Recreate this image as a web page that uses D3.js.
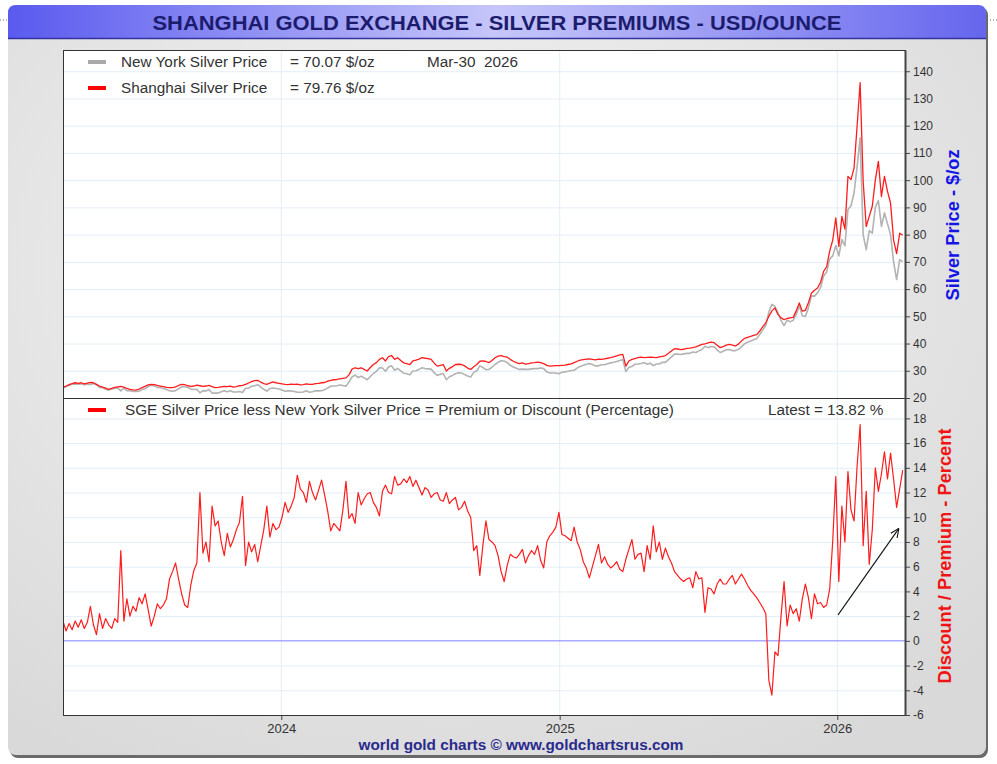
<!DOCTYPE html>
<html>
<head>
<meta charset="utf-8">
<script src="https://cdn.jsdelivr.net/npm/d3@7"></script>
<style>
  html, body { margin: 0; padding: 0; background: #fff; }
  svg { display: block; font-family: "Liberation Sans", Arial, sans-serif; }
</style>
</head>
<body>
<svg id="chart" width="997" height="764"></svg>
<script>
// one reading every 4 days from the start date
const startDate = "2023-03-20";
const stepDays = 4;
const quoteDate = "Mar-30  2026";

const nyPrice = [
  23.6, 24.2, 24.6, 25.1, 25.2, 25.1, 25.2, 24.9, 25.1, 25.0,
  25.3, 24.9, 23.9, 23.8, 23.2, 22.9, 23.3, 23.5, 23.7, 22.6,
  23.6, 22.7, 22.7, 22.4, 22.4, 22.5, 23.1, 23.4, 24.2, 24.7,
  24.4, 23.9, 23.8, 23.5, 23.1, 22.7, 22.5, 22.7, 23.4, 24.1,
  24.2, 23.9, 23.3, 23.1, 23.2, 21.9, 22.7, 22.6, 23.1, 21.8,
  21.8, 21.8, 22.3, 22.7, 22.3, 22.7, 22.2, 22.2, 22.4, 22.0,
  23.6, 23.6, 24.3, 24.5, 24.9, 24.0, 23.2, 22.5, 23.5, 23.7,
  23.5, 23.3, 22.9, 22.5, 22.6, 22.6, 22.4, 22.1, 22.1, 22.2,
  22.7, 22.1, 22.3, 22.7, 22.6, 22.7, 23.0, 23.7, 24.3, 24.4,
  24.5, 24.8, 24.6, 24.3, 25.9, 27.7, 28.4, 27.5, 28.0, 27.4,
  26.7, 27.9, 29.0, 29.8, 31.1, 31.0, 29.8, 31.4, 31.8, 30.2,
  30.9, 30.0, 29.1, 28.9, 28.5, 29.9, 30.0, 30.5, 31.1, 30.8,
  30.7, 30.6, 29.3, 28.3, 28.7, 29.0, 26.7, 27.8, 28.3, 28.9,
  29.3, 29.2, 28.6, 28.1, 27.7, 29.4, 30.0, 31.8, 31.2, 30.4,
  30.5, 31.3, 32.3, 33.1, 33.7, 33.6, 33.0, 32.0, 31.4, 30.9,
  30.5, 30.6, 30.5, 30.5, 30.7, 30.8, 30.8, 31.0, 30.8, 29.6,
  29.2, 29.2, 29.2, 28.9, 29.5, 29.6, 29.8, 30.1, 30.2, 31.0,
  31.6, 32.0, 32.4, 32.7, 32.3, 31.8, 31.8, 32.2, 32.2, 32.6,
  32.9, 33.1, 33.4, 33.8, 34.1, 29.7, 31.3, 31.6, 32.4, 32.5,
  32.7, 33.0, 32.4, 32.8, 31.9, 32.5, 32.5, 33.1, 33.1, 34.1,
  35.1, 36.1, 36.1, 36.0, 36.2, 36.4, 36.4, 36.9, 36.7, 37.3,
  37.8, 39.0, 38.5, 38.9, 38.8, 37.7, 36.7, 37.2, 37.7, 37.8,
  37.4, 37.4, 37.9, 38.8, 39.9, 40.5, 40.9, 41.4, 41.8, 43.3,
  45.0, 46.6, 51.6, 54.4, 53.6, 51.3, 48.4, 46.6, 48.6, 48.0,
  48.5, 50.7, 54.0, 50.2, 49.9, 53.1, 57.5, 57.4, 58.6, 60.6,
  64.8, 66.3, 71.0, 72.2, 76.0, 72.2, 78.2, 75.9, 89.2, 90.6,
  95.2, 104.9, 115.6, 80.0, 74.5, 81.5, 80.5, 90.0, 92.5, 83.0,
  88.0, 84.0, 80.0, 70.0, 63.5, 70.8, 70.07
];

const sgePrice = [
  24.0, 24.4, 24.9, 25.3, 25.6, 25.4, 25.6, 25.2, 25.5, 25.7,
  25.6, 25.0, 24.4, 24.0, 23.6, 23.2, 23.5, 23.9, 24.1, 24.3,
  24.0, 23.5, 23.2, 23.0, 22.9, 23.3, 23.8, 24.3, 24.8, 25.0,
  24.9, 24.6, 24.4, 24.2, 23.9, 23.8, 23.8, 24.1, 24.6, 25.0,
  24.9, 24.5, 24.3, 24.4, 24.7, 24.5, 24.3, 24.4, 24.6, 24.2,
  23.8, 23.9, 24.1, 24.3, 24.2, 24.4, 24.0, 24.2, 24.5, 24.6,
  25.0, 25.5, 26.0, 26.4, 26.5, 25.8, 25.3, 25.0, 25.5, 25.9,
  25.6, 25.4, 25.2, 25.0, 24.9, 25.1, 25.0, 25.1, 24.8, 24.9,
  25.2, 25.0, 25.0, 25.3, 25.4, 25.6, 25.7, 26.2, 26.5, 26.7,
  26.8, 27.0, 27.2, 27.4, 28.5, 30.6, 31.1, 30.8, 31.1, 30.5,
  29.9, 31.2, 32.3, 33.0, 34.2, 34.8, 33.6, 35.2, 35.6, 34.2,
  34.8, 33.8, 32.9, 32.6, 32.3, 33.6, 33.9, 34.3, 34.8, 34.6,
  34.5, 34.2, 32.8, 31.7, 32.0, 32.3, 29.9, 30.9, 31.5, 32.3,
  32.4, 32.3, 31.8, 31.0, 30.5, 31.5, 32.3, 33.5, 33.6, 33.4,
  33.0, 33.8, 34.8, 35.4, 35.6, 35.2, 35.0, 34.2, 33.5, 33.0,
  32.6, 32.9, 32.4, 32.6, 32.9, 33.0, 33.2, 33.0, 32.6, 32.0,
  31.7, 31.8, 31.9, 31.9, 32.0, 32.1, 32.3, 32.5, 33.0, 33.5,
  33.9, 34.1, 34.3, 34.4, 34.2, 34.0, 34.3, 34.2, 34.4, 34.6,
  34.8, 35.1, 35.5, 35.8, 36.0, 31.7, 33.6, 34.2, 34.5, 34.8,
  35.0, 34.8, 34.9, 35.0, 34.9, 34.8, 35.1, 35.3, 35.6, 36.4,
  37.3, 38.1, 38.0, 37.8, 37.9, 38.2, 38.3, 38.5, 38.8, 39.2,
  39.7, 39.9, 40.2, 40.5, 40.3, 39.4, 38.5, 38.9, 39.4, 39.7,
  39.4, 39.1, 39.8, 40.9, 41.9, 42.3, 42.6, 43.0, 43.3, 44.6,
  46.2, 47.6, 50.0, 52.0, 53.1, 50.7, 49.4, 48.8, 49.2, 49.4,
  49.6, 52.0, 54.9, 51.9, 52.2, 55.0, 58.5, 59.6, 60.4, 62.5,
  66.5, 68.2, 74.0, 78.0, 86.1, 75.7, 86.7, 82.0, 101.4, 100.2,
  104.4, 119.7, 135.8, 99.5, 83.0, 86.7, 90.4, 100.1, 106.9, 94.0,
  101.4, 95.9, 91.6, 78.0, 73.0, 80.5, 79.76
];

const premium = [
  1.6, 0.8, 1.4, 0.9, 1.6, 1.1, 1.7, 1.0, 1.5, 2.8,
  1.3, 0.5, 2.2, 1.0, 1.8, 1.3, 1.0, 1.8, 1.5, 7.3,
  1.6, 3.4, 2.0, 2.8, 2.4, 3.5, 3.0, 3.8, 2.5, 1.2,
  2.0, 3.0, 2.6, 2.9, 3.4, 5.0, 5.6, 6.3, 5.0, 3.8,
  2.9, 2.7, 4.5, 5.7, 6.3, 12.0, 7.1, 8.0, 6.4, 10.9,
  9.3, 9.7, 8.0, 6.9, 8.7, 7.6, 8.2, 9.0, 9.6, 11.7,
  6.1, 8.0, 7.2, 7.8, 6.4, 7.7, 9.0, 10.9, 8.4, 9.5,
  9.0, 9.2, 10.0, 11.2, 10.4, 10.9, 11.6, 13.4, 12.3, 12.0,
  11.2, 12.9, 12.0, 11.4, 12.2, 13.0, 11.8, 10.5, 8.9, 9.5,
  9.2, 8.9, 10.6, 12.9, 9.9, 10.3, 9.5, 12.0, 11.0, 11.5,
  11.9, 12.0, 11.2, 10.8, 10.1, 12.1, 12.6, 12.0, 11.9, 13.3,
  12.6, 12.7, 13.1, 12.8, 13.3, 12.5, 13.0, 12.4, 11.8, 12.4,
  12.2, 11.6, 11.9, 12.0, 11.4, 11.3, 12.0, 11.1, 11.4, 11.6,
  10.6, 10.8, 11.3, 10.5, 10.0, 7.3, 7.7, 5.3, 7.7, 9.7,
  8.2, 8.0, 7.7, 6.9, 5.6, 4.8, 6.1, 7.0, 6.8, 6.7,
  7.0, 7.4, 6.3, 6.9, 7.3, 7.0, 7.7, 6.5, 5.9, 8.0,
  8.5, 8.8, 9.2, 10.4, 8.6, 8.5, 8.3, 8.1, 9.2, 8.0,
  7.4, 6.4, 5.9, 5.1, 6.0, 6.9, 7.8, 6.3, 6.8, 6.2,
  5.9, 6.1, 6.4, 5.8, 5.6, 6.6, 7.4, 8.2, 6.6, 7.0,
  7.1, 5.6, 7.7, 6.6, 9.3, 7.2, 8.0, 6.6, 7.5, 6.8,
  6.3, 5.6, 5.3, 5.0, 4.8, 5.0, 5.1, 4.3, 5.6, 5.0,
  5.1, 2.3, 4.3, 4.2, 3.8, 4.6, 5.0, 4.6, 4.6, 5.0,
  5.3, 4.6, 5.0, 5.4, 5.0, 4.5, 4.1, 3.8, 3.5, 3.1,
  2.7, 2.2, -3.2, -4.4, -0.9, -1.2, 2.0, 4.8, 1.2, 2.9,
  2.2, 2.6, 1.6, 3.4, 4.6, 3.5, 1.8, 3.8, 3.0, 3.1,
  2.7, 2.9, 4.2, 8.1, 13.3, 4.8, 10.9, 8.0, 13.7, 10.6,
  9.7, 14.1, 17.5, 7.7, 12.1, 6.2, 9.0, 14.0, 12.1, 13.5,
  15.3, 13.1, 15.2, 13.1, 10.8, 12.3, 13.82
];

const priceTicks = [20, 30, 40, 50, 60, 70, 80, 90, 100, 110, 120, 130, 140];
const premiumTicks = [-6, -4, -2, 0, 2, 4, 6, 8, 10, 12, 14, 16, 18];
const yearTicks = ["2024-01-01", "2025-01-01", "2026-01-01"];
const arrowPoints = [["2026-01-02", 2.1], ["2026-03-23", 9.1]];

const parseDate = d3.utcParse("%Y-%m-%d");
const dates = premium.map((d, i) => d3.utcDay.offset(parseDate(startDate), i * stepDays));
const fmt = d3.format(".2f");

const svg = d3.select("#chart");
const box = { left: 63, right: 905, top: 50, split: 398, bottom: 715 };

const x = d3.scaleUtc()
  .domain([parseDate("2023-03-20"), parseDate("2026-03-31")])
  .range([box.left, box.right]);
const yTop = d3.scaleLinear().domain([20, 147.8]).range([box.split, box.top]);
const yBot = d3.scaleLinear().domain([-6, 19.65]).range([box.bottom, box.split]);

const defs = svg.append("defs");

const panelGrad = defs.append("radialGradient").attr("id", "panelGrad")
  .attr("cx", "45%").attr("cy", "35%").attr("r", "75%");
panelGrad.append("stop").attr("offset", "0%").attr("stop-color", "#f5f5f5");
panelGrad.append("stop").attr("offset", "100%").attr("stop-color", "#d9d9d9");

const titleGrad = defs.append("linearGradient").attr("id", "titleGrad");
titleGrad.append("stop").attr("offset", "0%").attr("stop-color", "#5a5aef");
titleGrad.append("stop").attr("offset", "50%").attr("stop-color", "#c6c6fa");
titleGrad.append("stop").attr("offset", "100%").attr("stop-color", "#6666ee");

defs.append("clipPath").attr("id", "clipTop").append("rect")
  .attr("x", box.left).attr("y", box.top)
  .attr("width", box.right - box.left).attr("height", box.split - box.top);
defs.append("clipPath").attr("id", "clipBot").append("rect")
  .attr("x", box.left).attr("y", box.split)
  .attr("width", box.right - box.left).attr("height", box.bottom - box.split);

defs.append("marker").attr("id", "arrowHead")
  .attr("viewBox", "0 0 10 10").attr("refX", 10).attr("refY", 5)
  .attr("markerWidth", 9).attr("markerHeight", 9)
  .attr("markerUnits", "userSpaceOnUse").attr("orient", "auto")
  .append("path").attr("d", "M0,0.5 L10,5 L0,9.5")
  .attr("fill", "none").attr("stroke", "#111").attr("stroke-width", 1.2);

// dotted rule behind the frame
svg.append("line").attr("x1", 0).attr("x2", 997).attr("y1", 20).attr("y2", 20)
  .attr("stroke", "#666").attr("stroke-dasharray", "1,2");

// frame with shadow
svg.append("rect").attr("x", 10).attr("y", 7).attr("width", 978).attr("height", 751)
  .attr("rx", 8).attr("fill", "#6a6a6a");
svg.append("rect").attr("x", 8).attr("y", 5).attr("width", 978).attr("height", 750)
  .attr("rx", 8).attr("fill", "url(#panelGrad)");

// title bar
svg.append("path")
  .attr("d", "M8,38 L8,13 Q8,5 16,5 L978,5 Q986,5 986,13 L986,38 Z")
  .attr("fill", "url(#titleGrad)");
svg.append("line").attr("x1", 8).attr("x2", 986).attr("y1", 38.5).attr("y2", 38.5)
  .attr("stroke", "#3333a0").attr("stroke-width", 1.5);
svg.append("text")
  .attr("x", 497).attr("y", 30)
  .attr("text-anchor", "middle")
  .attr("font-size", 20).attr("font-weight", "bold")
  .attr("fill", "#1c1c6e")
  .attr("textLength", 689).attr("lengthAdjust", "spacingAndGlyphs")
  .text("SHANGHAI GOLD EXCHANGE - SILVER PREMIUMS - USD/OUNCE");

// plot background
svg.append("rect")
  .attr("x", box.left).attr("y", box.top)
  .attr("width", box.right - box.left).attr("height", box.bottom - box.top)
  .attr("fill", "#fff");

// grid
const grid = svg.append("g").attr("stroke", "#e2eef9").attr("stroke-width", 1);
grid.selectAll(".gt").data(priceTicks.filter(d => d > 20)).join("line")
  .attr("x1", box.left).attr("x2", box.right)
  .attr("y1", d => yTop(d) + 0.5).attr("y2", d => yTop(d) + 0.5);
grid.selectAll(".gb").data(premiumTicks.filter(d => d > -6 && d !== 0)).join("line")
  .attr("x1", box.left).attr("x2", box.right)
  .attr("y1", d => yBot(d) + 0.5).attr("y2", d => yBot(d) + 0.5);
grid.selectAll(".gx").data(yearTicks).join("line")
  .attr("x1", d => x(parseDate(d))).attr("x2", d => x(parseDate(d)))
  .attr("y1", box.top).attr("y2", box.bottom);

svg.append("line")
  .attr("x1", box.left).attr("x2", box.right)
  .attr("y1", yBot(0)).attr("y2", yBot(0))
  .attr("stroke", "#8080ff").attr("stroke-width", 1);

// price lines
const priceLine = values => d3.line()
  .x((d, i) => x(dates[i]))
  .y(d => yTop(d))(values);

const topPanel = svg.append("g").attr("clip-path", "url(#clipTop)");
topPanel.append("path").attr("d", priceLine(nyPrice))
  .attr("fill", "none").attr("stroke", "#b3b3b3").attr("stroke-width", 1.6)
  .attr("stroke-linejoin", "round");
topPanel.append("path").attr("d", priceLine(sgePrice))
  .attr("fill", "none").attr("stroke", "#ff1c1c").attr("stroke-width", 1.3)
  .attr("stroke-linejoin", "round");

// premium line
const premLine = d3.line()
  .x((d, i) => x(dates[i]))
  .y(d => yBot(d));
svg.append("g").attr("clip-path", "url(#clipBot)")
  .append("path").attr("d", premLine(premium))
  .attr("fill", "none").attr("stroke", "#ff1c1c").attr("stroke-width", 1.2)
  .attr("stroke-linejoin", "round");

// arrow annotation
svg.append("line")
  .attr("x1", x(parseDate(arrowPoints[0][0]))).attr("y1", yBot(arrowPoints[0][1]))
  .attr("x2", x(parseDate(arrowPoints[1][0]))).attr("y2", yBot(arrowPoints[1][1]))
  .attr("stroke", "#111").attr("stroke-width", 1.1)
  .attr("marker-end", "url(#arrowHead)");

// frame lines
svg.append("rect")
  .attr("x", box.left + 0.5).attr("y", box.top + 0.5)
  .attr("width", box.right - box.left).attr("height", box.bottom - box.top)
  .attr("fill", "none").attr("stroke", "#333");
svg.append("line")
  .attr("x1", box.left).attr("x2", box.right)
  .attr("y1", box.split + 0.5).attr("y2", box.split + 0.5)
  .attr("stroke", "#333");

// axes
const styleAxis = g => {
  g.attr("font-family", null).attr("font-size", 12);
  g.select(".domain").attr("stroke", "#444").attr("stroke-width", 2);
  g.selectAll(".tick line").attr("stroke", "#444");
  g.selectAll(".tick text").attr("fill", "#333");
};
const plainNum = d => String(d);

svg.append("g")
  .attr("transform", `translate(${box.right},0)`)
  .call(d3.axisRight(yTop).tickValues(priceTicks).tickFormat(plainNum)
    .tickSize(5).tickSizeOuter(0).tickPadding(3))
  .call(styleAxis);

svg.append("g")
  .attr("transform", `translate(${box.right},0)`)
  .call(d3.axisRight(yBot).tickValues(premiumTicks).tickFormat(plainNum)
    .tickSize(5).tickSizeOuter(0).tickPadding(3))
  .call(styleAxis);

svg.append("g")
  .attr("transform", `translate(0,${box.bottom})`)
  .call(d3.axisBottom(x).tickValues(yearTicks.map(parseDate))
    .tickFormat(d3.utcFormat("%Y")).tickSize(5).tickSizeOuter(0).tickPadding(4))
  .call(g => {
    g.attr("font-family", null).attr("font-size", 13);
    g.select(".domain").remove();
    g.selectAll(".tick line").attr("stroke", "#444");
    g.selectAll(".tick text").attr("fill", "#333");
  });

// axis titles
svg.append("text")
  .attr("transform", "translate(959,225) rotate(-90)")
  .attr("text-anchor", "middle")
  .attr("font-size", 18).attr("font-weight", "bold")
  .attr("fill", "#1414e6")
  .attr("textLength", 151).attr("lengthAdjust", "spacingAndGlyphs")
  .text("Silver Price - $/oz");

svg.append("text")
  .attr("transform", "translate(951,556) rotate(-90)")
  .attr("text-anchor", "middle")
  .attr("font-size", 18).attr("font-weight", "bold")
  .attr("fill", "#f01414")
  .attr("textLength", 255).attr("lengthAdjust", "spacingAndGlyphs")
  .text("Discount / Premium - Percent");

// legends
const legend = svg.append("g").attr("font-size", 15.3).attr("fill", "#333");

legend.append("line").attr("x1", 88).attr("x2", 106).attr("y1", 62).attr("y2", 62)
  .attr("stroke", "#aaa").attr("stroke-width", 4);
legend.append("text").attr("x", 121).attr("y", 67).text("New York Silver Price");
legend.append("text").attr("x", 290).attr("y", 67)
  .text(`= ${fmt(nyPrice[nyPrice.length - 1])} $/oz`);
legend.append("text").attr("x", 427).attr("y", 67)
  .style("white-space", "pre").text(quoteDate);

legend.append("line").attr("x1", 88).attr("x2", 106).attr("y1", 88).attr("y2", 88)
  .attr("stroke", "#f00").attr("stroke-width", 4);
legend.append("text").attr("x", 121).attr("y", 93).text("Shanghai Silver Price");
legend.append("text").attr("x", 290).attr("y", 93)
  .text(`= ${fmt(sgePrice[sgePrice.length - 1])} $/oz`);

legend.append("line").attr("x1", 88).attr("x2", 106).attr("y1", 410).attr("y2", 410)
  .attr("stroke", "#f00").attr("stroke-width", 4);
legend.append("text").attr("x", 125).attr("y", 415)
  .text("SGE Silver Price less New York Silver Price = Premium or Discount (Percentage)");
legend.append("text").attr("x", 768).attr("y", 415)
  .text(`Latest = ${fmt(premium[premium.length - 1])} %`);

// footer
svg.append("text")
  .attr("x", 521).attr("y", 750)
  .attr("text-anchor", "middle")
  .attr("font-size", 14.5).attr("font-weight", "bold")
  .attr("fill", "#2a2a8c")
  .attr("textLength", 325).attr("lengthAdjust", "spacingAndGlyphs")
  .text("world gold charts \u00a9 www.goldchartsrus.com");
</script>
</body>
</html>
